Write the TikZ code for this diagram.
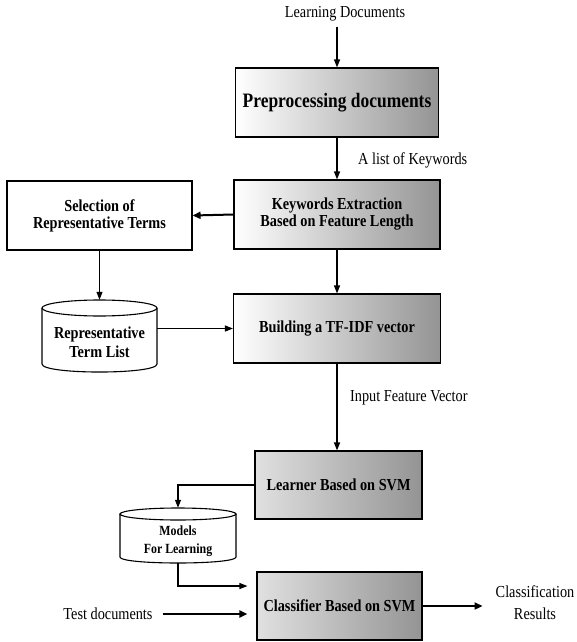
\documentclass[tikz,border=0pt]{standalone}
\usepackage{fontspec}
\setmainfont{Liberation Serif}[FakeStretch=0.85]
\usetikzlibrary{arrows.meta,calc}
\tikzset{
  box/.style={draw=black, line width=1.1pt, align=center, inner sep=2pt,
    font=\bfseries\fontsize{16.8}{17}\selectfont},
  gbox/.style={box, left color=white, right color=black!42},
  dbox/.style={box, left color=black!12, right color=black!42},
  cylnode/.style={align=center, inner sep=0pt, font=\bfseries\fontsize{16.8}{19}\selectfont},
  cylline/.style={draw=black, line width=1.1pt},
  lbl/.style={font=\fontsize{16.8}{17}\selectfont, inner sep=1pt},
  arr/.style={line width=1.2pt, -{Triangle[length=8pt,width=6pt]}},
  tarr/.style={line width=2pt, -{Triangle[length=8pt,width=7pt]}},
}
\begin{document}
\begin{tikzpicture}[x=1pt,y=-1pt]
\useasboundingbox (0,0) rectangle (577,642);
% nodes
\node[lbl] (ld) at (345,14) {Learning Documents};
\node[gbox, minimum width=203pt, minimum height=69pt,
      font=\bfseries\fontsize{20.5}{21}\selectfont] (pre) at (337,102.5) {Preprocessing documents};
\node[gbox, minimum width=206pt, minimum height=69pt] (kw) at (337,214.5) {Keywords Extraction\\Based on Feature Length};
\node[box, fill=white, minimum width=185pt, minimum height=69pt] (sel) at (99.5,215.5) {Selection of\\Representative Terms};
\node[gbox, minimum width=207pt, minimum height=69pt] (build) at (337,328.5) {Building a TF-IDF vector};
\node[dbox, minimum width=167pt, minimum height=68pt] (learn) at (338.5,485) {Learner Based on SVM};
\node[dbox, minimum width=165pt, minimum height=68pt] (cls) at (339.5,606) {Classifier Based on SVM};
% cylinders
\node[cylnode, minimum width=115pt, minimum height=72pt] (rep) at (99.5,336) {};
\draw[cylline, fill=white] (42,308) -- (42,364) .. controls (42,374.7) and (157,374.7) .. (157,364) -- (157,308);
\draw[cylline, fill=white] (99.5,308) ellipse [x radius=57.5pt, y radius=8pt];
\node[cylnode] at (99.5,342) {Representative\\Term List};
\node[cylnode, minimum width=116pt, minimum height=55pt] (mod) at (178,535.5) {};
\draw[cylline, fill=white] (120,514) -- (120,557) .. controls (120,565) and (236,565) .. (236,557) -- (236,514);
\draw[cylline, fill=white] (178,514) ellipse [x radius=58pt, y radius=6pt];
\node[cylnode, font=\bfseries\fontsize{14}{18}\selectfont] at (178,541) {Models\\For Learning};
% labels
\node[lbl, anchor=west] (kwl) at (357,160) {A list of Keywords};
\node[lbl, anchor=west] (ifv) at (349,398) {Input Feature Vector};
\node[lbl] (td) at (108,614) {Test documents};
\node[lbl, align=center, font=\fontsize{16.8}{22}\selectfont] (cr) at (535,603) {Classification\\Results};
% connectors
\draw[arr, shorten <=4pt] (ld.south -| pre.north) -- (pre.north);
\draw[arr] (pre.south) -- (kw.north);
\draw[tarr] (kw.west) -- (sel.east);
\draw[arr] (sel.south) -- (rep.north);
\draw[arr] (kw.south) -- (build.north);
\draw[arr] (rep.east |- build.west) -- (build.west);
\draw[arr] (build.south) -- (build.south |- learn.north);
\draw[arr] (learn.west) -| (mod.north);
\draw[arr] (mod.south) |- ($(cls.west)+(-9,-20)$);
\draw[tarr, shorten <=9pt] (td.east) -- ($(td.east -| cls.west)+(-9,0)$);
\draw[tarr] (cls.east) -- ($(cls.east -| cr.west)+(-12,0)$);
\end{tikzpicture}
\end{document}
